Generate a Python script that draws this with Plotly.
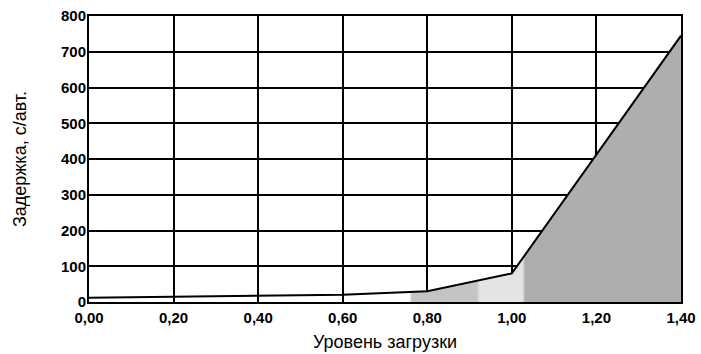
import plotly.graph_objects as go

load_level = [0.0, 0.2, 0.4, 0.6, 0.8, 1.0, 1.4]
delay_s = [12, 14, 16, 20, 30, 80, 745]

x_ticks = [0.0, 0.2, 0.4, 0.6, 0.8, 1.0, 1.2, 1.4]
y_ticks = [0, 100, 200, 300, 400, 500, 600, 700, 800]

TICK_FONT = dict(family="Liberation Sans, Arial, sans-serif", size=15, color="black", weight="bold")
TITLE_FONT = dict(family="Liberation Sans, Arial, sans-serif", size=18, color="black")

# stippled shading under the curve, approximated with a horizontal gradient
shade = [
    [0.0, "rgba(255,255,255,0)"],
    [0.540, "rgba(255,255,255,0)"],
    [0.545, "#c4c4c4"],
    [0.655, "#c4c4c4"],
    [0.660, "#e4e4e4"],
    [0.732, "#e4e4e4"],
    [0.737, "#aeaeae"],
    [1.0, "#aeaeae"],
]

fig = go.Figure()
fig.add_trace(go.Scatter(
    x=load_level, y=delay_s, mode="lines",
    line=dict(color="black", width=2),
    fill="tozeroy",
    fillgradient=dict(type="horizontal", colorscale=shade),
    showlegend=False, hoverinfo="skip",
))

fig.update_xaxes(
    range=[0, 1.4], tickvals=x_ticks, tickformat=".2f",
    showgrid=True, gridcolor="black", gridwidth=1.5,
    showline=True, linecolor="black", linewidth=2, mirror=True,
    ticks="", tickfont=TICK_FONT, zeroline=False, automargin=False,
    ticklabelstandoff=1,
    title=dict(text="Уровень загрузки", font=TITLE_FONT, standoff=10),
)
fig.update_yaxes(
    range=[0, 800], tickvals=y_ticks,
    showgrid=True, gridcolor="black", gridwidth=1.5,
    showline=True, linecolor="black", linewidth=2, mirror=True,
    ticks="", tickfont=TICK_FONT, zeroline=False, automargin=False,
    ticklabelstandoff=-2,
    title=dict(text="Задержка, с/авт.", font=TITLE_FONT, standoff=30),
)
fig.update_layout(
    width=701, height=354,
    margin=dict(l=89, r=20, t=16, b=52),
    plot_bgcolor="white", paper_bgcolor="white",
    separators=", ",
)
fig.write_html("out.html", config={"displayModeBar": False},
               post_script="document.body.style.margin='0';")
